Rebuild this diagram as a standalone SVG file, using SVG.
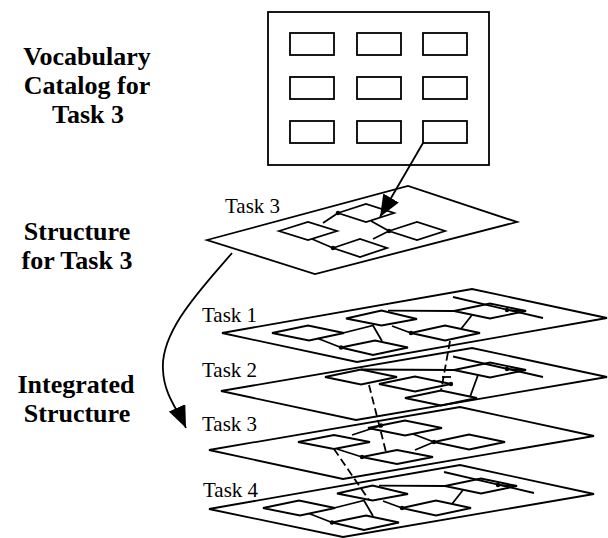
<svg xmlns="http://www.w3.org/2000/svg" xmlns:xlink="http://www.w3.org/1999/xlink" width="608" height="538" viewBox="0 0 608 538">
<style>
.ln{fill:none;stroke:#000;stroke-width:1.8;stroke-linejoin:miter}
.pl{fill:none;stroke:#000;stroke-width:1.8}
.dash{fill:none;stroke:#000;stroke-width:1.8;stroke-dasharray:8 4}
.dot{fill:#000}
.lbl{font-family:"Liberation Serif","Times New Roman",serif;font-size:21px;fill:#000}
.ttl{font-family:"Liberation Serif","Times New Roman",serif;font-size:26px;font-weight:bold;text-anchor:middle;fill:#000}
</style>
<defs>
<marker id="ah" viewBox="0 0 22 18" refX="22" refY="9" markerWidth="22" markerHeight="18" markerUnits="userSpaceOnUse" orient="auto">
<path d="M0,0 L22,9 L0,18 z" fill="#000"/>
</marker>
<g id="t1inner">
<polygon class="ln" points="272,333 308,325.5 344,333 309,340.5"/>
<polygon class="ln" points="346,318.5 381.5,310.5 417,319 381.5,325.5"/>
<polygon class="ln" points="341,347.5 375,340.5 408,347.5 373,355"/>
<polygon class="ln" points="411,333 445,325.5 480,333 445,340.5"/>
<polygon class="ln" points="454,311 490,303.5 526,311 490,318.5"/>
<polyline class="ln" points="343,333 373,325.5 382,341"/>
<line class="ln" x1="318" y1="338.5" x2="341" y2="347.5"/>
<line class="ln" x1="388" y1="310.7" x2="454" y2="311"/>
<line class="ln" x1="392" y1="326" x2="411" y2="333"/>
<line class="ln" x1="472" y1="315" x2="461" y2="329"/>
<line class="ln" x1="453" y1="297" x2="543" y2="318"/>
<line class="ln" x1="507" y1="310" x2="526" y2="311"/>
<circle class="dot" cx="341" cy="347.5" r="2.2"/>
<circle class="dot" cx="411" cy="333" r="2.2"/>
<circle class="dot" cx="507" cy="310" r="2.2"/>
</g>
</defs>
<rect width="608" height="538" fill="#fff"/>

<g id="labels">
<text class="ttl" x="87" y="65">Vocabulary</text>
<text class="ttl" x="87" y="94">Catalog for</text>
<text class="ttl" x="88" y="123">Task 3</text>
<text class="ttl" x="77" y="240">Structure</text>
<text class="ttl" x="77" y="269">for Task 3</text>
<text class="ttl" x="76" y="393">Integrated</text>
<text class="ttl" x="77" y="422">Structure</text>
</g>

<g id="catalog">
<rect class="ln" x="268" y="12" width="221" height="153"/>
<rect class="ln" x="290" y="33" width="44" height="22"/>
<rect class="ln" x="357" y="33" width="44" height="22"/>
<rect class="ln" x="423" y="33" width="44" height="22"/>
<rect class="ln" x="290" y="77" width="44" height="22"/>
<rect class="ln" x="357" y="77" width="44" height="22"/>
<rect class="ln" x="423" y="77" width="44" height="22"/>
<rect class="ln" x="290" y="121" width="44" height="22"/>
<rect class="ln" x="357" y="121" width="44" height="22"/>
<rect class="ln" x="423" y="121" width="44" height="22"/>
</g>

<g id="structure-task3">
<polygon class="pl" points="207,240 408,186 517,222 315,274"/>
<text class="lbl" x="225" y="213">Task 3</text>
<polygon class="ln" points="279,231 308,222 337,231 308,240"/>
<polygon class="ln" points="338,213 366,204 394,213 366,222"/>
<polygon class="ln" points="389,231 417,222 445,231 417,240"/>
<polygon class="ln" points="333,248 360,239 387,248 360,257"/>
<line class="ln" x1="323" y1="223" x2="338" y2="213"/>
<line class="ln" x1="312" y1="239" x2="333" y2="248"/>
<line class="ln" x1="371" y1="221" x2="389" y2="231"/>
<line class="ln" x1="373" y1="239" x2="389" y2="231"/>
<circle class="dot" cx="338" cy="213" r="2.2"/>
<circle class="dot" cx="333" cy="248" r="2.2"/>
<circle class="dot" cx="389" cy="231" r="2.2"/>
</g>

<g id="layer-task1">
<polygon class="pl" points="222,333 472,289 607,318 357,362"/>
<text class="lbl" x="202" y="322">Task 1</text>
<use xlink:href="#t1inner"/>
</g>

<g id="layer-task2">
<polygon class="pl" points="221,391 472,348 607,377 356,420"/>
<text class="lbl" x="202" y="377">Task 2</text>
<polygon class="ln" points="325,377 361,369.5 397,377 361,384.5"/>
<polygon class="ln" points="379,384 415,376.5 451,384 415,391.5"/>
<polygon class="ln" points="405,398 441,390.5 477,398 441,405.5"/>
<polygon class="ln" points="454,370 490,362.5 526,370 490,377.5"/>
<line class="ln" x1="361" y1="369.5" x2="454" y2="370"/>
<line class="ln" x1="453" y1="356.5" x2="543" y2="377"/>
<line class="ln" x1="507" y1="369" x2="526" y2="370"/>
<line class="ln" x1="478" y1="375" x2="470" y2="397"/>
<line class="ln" x1="442" y1="377" x2="451" y2="377"/>
<circle class="dot" cx="507" cy="369" r="2.2"/>
<circle class="dot" cx="451" cy="384" r="2.2"/>
</g>

<g id="layer-task3">
<polygon class="pl" points="209,450 460,407 594,436 343,479"/>
<text class="lbl" x="202" y="431">Task 3</text>
<polygon class="ln" points="298,442 334,435 370,442 334,449"/>
<polygon class="ln" points="368,428 405,420.5 442,428 405,435.5"/>
<polygon class="ln" points="362,457 397,450 433,457 397,464"/>
<polygon class="ln" points="434,442 469,434.5 505,442 469,449.5"/>
<line class="ln" x1="352" y1="435" x2="381" y2="425.5"/>
<line class="ln" x1="337" y1="449" x2="362" y2="457"/>
<line class="ln" x1="413" y1="434" x2="434" y2="442"/>
<line class="ln" x1="415" y1="450" x2="434" y2="442"/>
<circle class="dot" cx="381" cy="425.5" r="2.2"/>
<circle class="dot" cx="362" cy="457" r="2.2"/>
<circle class="dot" cx="434" cy="442" r="2.2"/>
</g>

<g id="layer-task4">
<polygon class="pl" points="209,509 460,465 594,494 343,537"/>
<text class="lbl" x="203" y="497">Task 4</text>
<use xlink:href="#t1inner" transform="translate(-9,175)"/>
</g>

<g id="connectors">
<line class="ln" x1="423" y1="143" x2="380" y2="217" marker-end="url(#ah)"/>
<path class="ln" d="M232,253 C205,285 160,330 163,370 C164,395 178,410 186,428" marker-end="url(#ah)"/>
<line class="dash" x1="450" y1="341" x2="441" y2="391"/>
<line class="dash" x1="369" y1="385" x2="386" y2="452"/>
<line class="dash" x1="334" y1="449" x2="369" y2="500"/>
</g>
</svg>
